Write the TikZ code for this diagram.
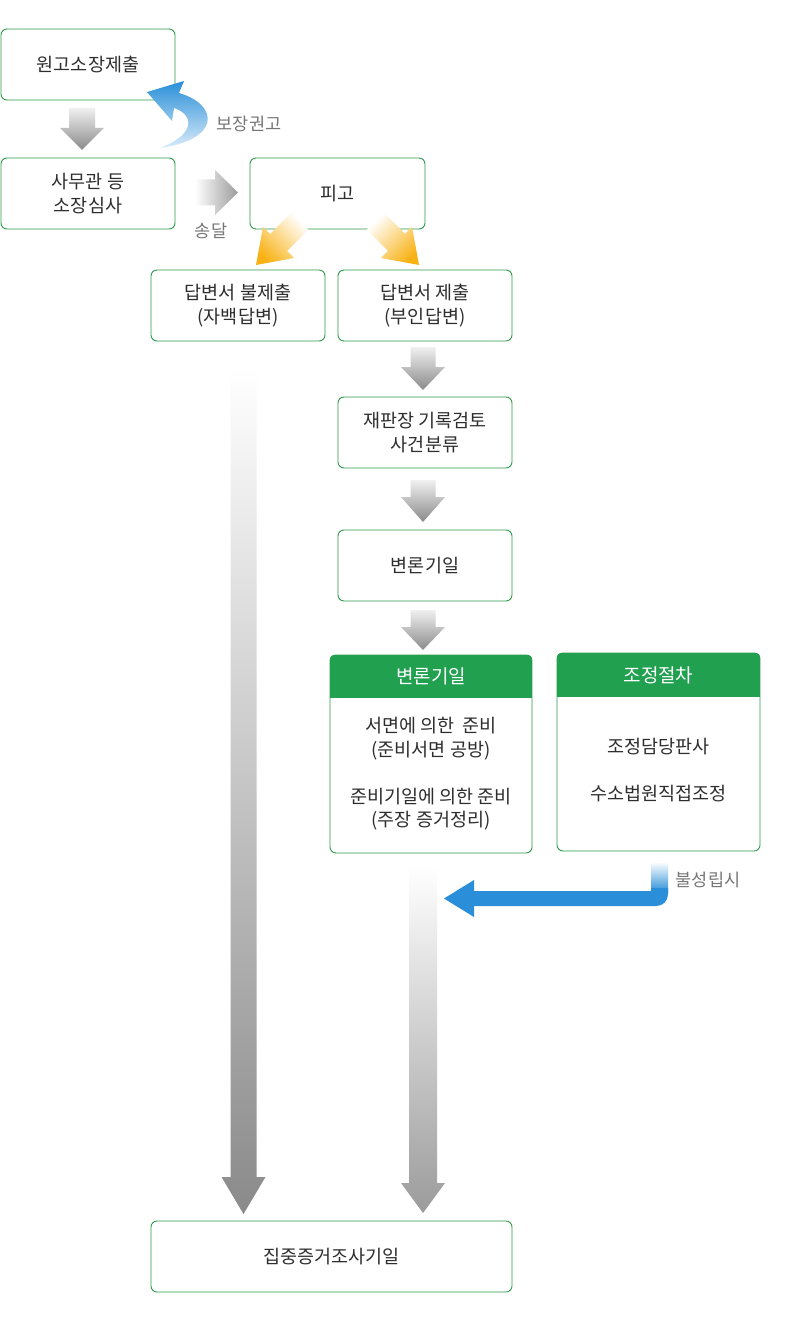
\documentclass[tikz,border=0pt]{standalone}
\usepackage{fontspec}
\setmainfont{Noto Sans CJK KR}
\definecolor{gb}{HTML}{2E9B4B}
\definecolor{hdr}{HTML}{21A050}
\definecolor{txt}{HTML}{2E2E2E}
\definecolor{lbl}{HTML}{777777}
\definecolor{blu}{HTML}{2A8FD8}
\definecolor{blulight}{HTML}{D8EBF9}
\definecolor{org}{HTML}{F8B215}
\definecolor{ga}{HTML}{8A8A8A}
\definecolor{gl}{HTML}{F0F0F0}
\newcommand\fatdown[6]{({#1-#5},#2) -- ({#1+#5},#2) -- ({#1+#5},#3) -- ({#1+#6},#3) -- (#1,#4) -- ({#1-#6},#3) -- ({#1-#5},#3) -- cycle}
\begin{document}
\begin{tikzpicture}[x=1pt,y=-1pt,
  box/.style={draw=gb, line width=0.9pt, rounded corners=6pt, fill=white, inner sep=0pt,
    minimum width=174pt, minimum height=71pt, align=center, text=txt,
    font=\fontsize{18.5}{24}\selectfont},
  lab/.style={text=lbl, font=\fontsize{17.5}{20}\selectfont, inner sep=0pt},
  hdtext/.style={text=white, font=\fontsize{19}{22}\selectfont, inner sep=0pt},
  bodytext/.style={text=txt, font=\fontsize{18.5}{23.5}\selectfont, inner sep=0pt, align=center},
  grayarrow/.style={top color=gl, bottom color=ga, draw=none},
  longarrow/.style={top color=white, bottom color=#1, draw=none}]
\useasboundingbox (0,0) rectangle (800,1337);
\fill[white] (0,0) rectangle (800,1337);

% long arrows (behind)
\shade[longarrow=ga] \fatdown{243.5}{368}{1177}{1214}{13}{22};
\shade[longarrow={ga!85!white}] \fatdown{423}{866}{1183}{1213}{14}{22};

% boxes
\node[box] (a) at (88,64.5) {원고소장제출};
\node[box] (b) at (88,193.5) {사무관 등\\소장심사};
\node[box, minimum width=175pt] (c) at (337.5,193.5) {피고};
\node[box] (d) at (238,305.5) {답변서 불제출\\(자백답변)};
\node[box] (e) at (425,305.5) {답변서 제출\\(부인답변)};
\node[box] (f) at (425,432.5) {재판장 기록검토\\사건분류};
\node[box] (g) at (425,565.5) {변론기일};
\node[box, minimum width=202pt, minimum height=198pt] (h) at (431,754) {};
\node[box, minimum width=203pt, minimum height=198pt] (i) at (658.5,752) {};
\node[box, minimum width=361pt] (z) at (331.5,1256.5) {집중증거조사기일};

% headers
\begin{scope}
  \clip[rounded corners=6pt] (h.north west) rectangle (h.south east);
  \fill[hdr] (h.north west) rectangle ([yshift=-43pt]h.north east);
\end{scope}
\begin{scope}
  \clip[rounded corners=6pt] (i.north west) rectangle (i.south east);
  \fill[hdr] (i.north west) rectangle ([yshift=-44pt]i.north east);
\end{scope}
\node[hdtext] (h1) at (431,676.5) {변론기일};
\node[hdtext] (i1) at (658.5,675) {조정절차};
\node[bodytext] (h2) at (431,774) {서면에 의한\ \ 준비\\(준비서면 공방)\\[23.5pt]준비기일에 의한 준비\\(주장 증거정리)};
\node[bodytext] (i2) at (658.5,770.5) {조정담당판사\\[23.5pt]수소법원직접조정};

% small gray arrows
\shade[grayarrow] \fatdown{82}{108}{128}{150}{13}{22};
\shade[grayarrow] \fatdown{423}{347}{367}{390}{12.5}{22};
\shade[grayarrow] \fatdown{423}{480}{497}{522}{12.5}{22};
\shade[grayarrow] \fatdown{423}{610}{627}{650}{12.5}{22};
\shade[left color=white, right color=ga!85!white]
  (195,179.5) -- (215,179.5) -- (215,170) -- (238,192.5) -- (215,215) -- (215,205.5) -- (195,205.5) -- cycle;

% yellow arrows
\shade[top color=white, bottom color=org, shading angle=-45]
  (291.3,212.7) -- (308.3,229.7) -- (287.1,250.9) -- (294.2,258) -- (256,265)
  -- (263,226.8) -- (270.1,233.9) -- cycle;
\shade[top color=white, bottom color=org, shading angle=45]
  (383.7,212.7) -- (366.7,229.7) -- (387.9,250.9) -- (380.8,258) -- (419,265)
  -- (412,226.8) -- (404.9,233.9) -- cycle;

% blue curved arrow
\shade[top color=blu, bottom color=blulight]
  (147,92) -- (184,81) -- (179,93) .. controls (220,105) and (220,140) .. (160,148)
  .. controls (195,135) and (195,115) .. (174,108) -- (172,121) -- cycle;

% blue elbow arrow
\shade[top color=white, bottom color=blu] (651,862) rectangle (668,892);
\fill[blu] (651,888) -- (651,891) -- (474,891) -- (474,880) -- (444,898.5) -- (474,917)
  -- (474,906) -- (656,906) .. controls (663,906) and (668,901) .. (668,894) -- (668,888) -- cycle;

% labels
\node[lab] (l1) at (249,124) {보장권고};
\node[lab] (l2) at (211,231) {송달};
\node[lab] (l3) at (708,880) {불성립시};
\end{tikzpicture}
\end{document}
